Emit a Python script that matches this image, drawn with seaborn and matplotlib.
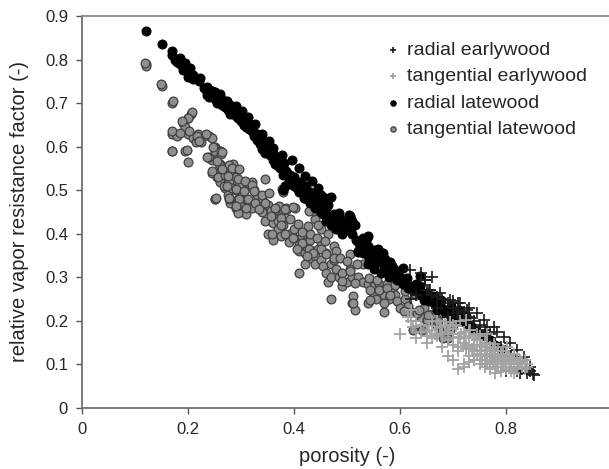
import matplotlib
matplotlib.use('Agg')
import matplotlib.pyplot as plt
import seaborn as sns
from matplotlib.ticker import FuncFormatter

# Values (porosity, relative vapor resistance factor)
radial_latewood_x = [0.12, 0.15, 0.17, 0.17, 0.175, 0.18, 0.185, 0.19, 0.195, 0.19, 0.20, 0.20, 0.21, 0.21, 0.22,
                     0.23, 0.235, 0.24, 0.24, 0.245, 0.25, 0.25, 0.255, 0.26, 0.26, 0.265, 0.27, 0.27, 0.275, 0.28,
                     0.28, 0.285, 0.29, 0.29, 0.295, 0.30, 0.30, 0.305, 0.31, 0.31, 0.315, 0.32, 0.32, 0.325, 0.33,
                     0.33, 0.335, 0.34, 0.34, 0.345, 0.35, 0.35, 0.355, 0.36, 0.36, 0.365, 0.37, 0.37, 0.375, 0.38,
                     0.38, 0.385, 0.39, 0.39, 0.395, 0.40, 0.40, 0.405, 0.41, 0.41, 0.415, 0.42, 0.42, 0.425, 0.43,
                     0.43, 0.435, 0.44, 0.44, 0.445, 0.45, 0.45, 0.455, 0.46, 0.46, 0.465, 0.47, 0.47, 0.475, 0.48,
                     0.48, 0.485, 0.49, 0.49, 0.495, 0.50, 0.505, 0.51, 0.51, 0.515, 0.52, 0.52, 0.525, 0.53, 0.53,
                     0.535, 0.54, 0.54, 0.545, 0.55, 0.55, 0.555, 0.56, 0.565, 0.57, 0.575, 0.58, 0.585, 0.59, 0.595,
                     0.60, 0.605, 0.61, 0.615, 0.62, 0.625, 0.63, 0.635, 0.64, 0.645, 0.65, 0.655, 0.66, 0.665, 0.67,
                     0.675, 0.68, 0.685, 0.69, 0.695, 0.70, 0.705, 0.71, 0.715, 0.72, 0.725, 0.73, 0.735, 0.74, 0.745,
                     0.75, 0.76, 0.77, 0.78, 0.79, 0.38, 0.47,
                     0.373, 0.392, 0.383, 0.411, 0.423, 0.436, 0.418, 0.451, 0.466, 0.457, 0.485, 0.504, 0.491, 0.507,
                     0.476, 0.517, 0.537, 0.54, 0.559, 0.521, 0.572, 0.588, 0.57, 0.553,
                     0.506, 0.5, 0.54, 0.524, 0.55, 0.568, 0.581, 0.606, 0.613, 0.638, 0.651, 0.664, 0.677, 0.696,
                     0.712, 0.725, 0.645, 0.67, 0.689, 0.638,
                     0.245, 0.261, 0.274, 0.29, 0.286, 0.302, 0.314, 0.327, 0.321, 0.34, 0.352, 0.346, 0.361, 0.378,
                     0.381, 0.396, 0.393, 0.409, 0.421, 0.415, 0.434, 0.446, 0.44, 0.459, 0.465, 0.383,
                     0.185, 0.195, 0.204, 0.211, 0.223, 0.236, 0.245, 0.236, 0.258, 0.264, 0.277, 0.286, 0.299, 0.305,
                     0.318, 0.33, 0.34, 0.349]
radial_latewood_y = [0.865, 0.835, 0.82, 0.81, 0.80, 0.795, 0.79, 0.785, 0.78, 0.775, 0.77, 0.76, 0.765, 0.755, 0.75,
                     0.735, 0.725, 0.73, 0.715, 0.72, 0.71, 0.725, 0.70, 0.715, 0.70, 0.695, 0.705, 0.69, 0.685, 0.695,
                     0.675, 0.68, 0.67, 0.685, 0.665, 0.66, 0.675, 0.65, 0.66, 0.645, 0.64, 0.635, 0.65, 0.625, 0.63,
                     0.615, 0.605, 0.615, 0.595, 0.60, 0.59, 0.605, 0.58, 0.585, 0.57, 0.56, 0.575, 0.555, 0.565, 0.55,
                     0.535, 0.545, 0.53, 0.52, 0.525, 0.51, 0.53, 0.505, 0.52, 0.495, 0.505, 0.49, 0.51, 0.48, 0.495,
                     0.47, 0.485, 0.46, 0.48, 0.465, 0.45, 0.47, 0.445, 0.46, 0.43, 0.44, 0.42, 0.485, 0.445, 0.43,
                     0.41, 0.44, 0.42, 0.40, 0.43, 0.41, 0.44, 0.43, 0.40, 0.42, 0.38, 0.36, 0.37, 0.39, 0.355,
                     0.37, 0.35, 0.33, 0.36, 0.34, 0.32, 0.35, 0.335, 0.31, 0.34, 0.32, 0.30, 0.325, 0.31, 0.295,
                     0.30, 0.285, 0.29, 0.275, 0.28, 0.27, 0.285, 0.265, 0.26, 0.255, 0.265, 0.245, 0.25, 0.24, 0.235,
                     0.245, 0.23, 0.22, 0.225, 0.215, 0.21, 0.22, 0.205, 0.20, 0.21, 0.195, 0.19, 0.185, 0.18, 0.175,
                     0.17, 0.165, 0.155, 0.145, 0.135, 0.50, 0.435,
                     0.55, 0.532, 0.51, 0.515, 0.505, 0.49, 0.482, 0.49, 0.482, 0.455, 0.447, 0.444, 0.428, 0.413,
                     0.436, 0.386, 0.39, 0.373, 0.365, 0.358, 0.342, 0.319, 0.319, 0.35,
                     0.439, 0.409, 0.394, 0.378, 0.363, 0.355, 0.336, 0.321, 0.298, 0.279, 0.264, 0.257, 0.249, 0.234,
                     0.226, 0.211, 0.249, 0.226, 0.219, 0.302,
                     0.728, 0.72, 0.705, 0.693, 0.674, 0.682, 0.667, 0.651, 0.636, 0.628, 0.613, 0.586, 0.597, 0.582,
                     0.563, 0.57, 0.536, 0.551, 0.532, 0.513, 0.521, 0.505, 0.49, 0.482, 0.467, 0.509,
                     0.803, 0.791, 0.78, 0.761, 0.757, 0.738, 0.727, 0.719, 0.715, 0.70, 0.696, 0.681, 0.666, 0.65,
                     0.643, 0.628, 0.612, 0.597]

tangential_latewood_x = [0.12, 0.12, 0.15, 0.17, 0.17, 0.17, 0.18, 0.19, 0.195, 0.20, 0.205, 0.20, 0.195, 0.20, 0.21,
                         0.215, 0.22, 0.225, 0.24, 0.245, 0.24, 0.245, 0.25, 0.255, 0.26, 0.25, 0.255, 0.26, 0.265,
                         0.27, 0.25, 0.26, 0.27, 0.275, 0.28, 0.285, 0.29, 0.28, 0.29, 0.295, 0.28, 0.29, 0.30, 0.30,
                         0.305, 0.31, 0.31, 0.32, 0.32, 0.325, 0.33, 0.335, 0.34, 0.34, 0.35, 0.345, 0.35, 0.36, 0.36,
                         0.365, 0.37, 0.37, 0.375, 0.38, 0.38, 0.385, 0.39, 0.39, 0.40, 0.40, 0.41, 0.41, 0.415, 0.42,
                         0.42, 0.425, 0.43, 0.43, 0.435, 0.44, 0.44, 0.445, 0.45, 0.45, 0.455, 0.46, 0.46, 0.465, 0.47,
                         0.47, 0.475, 0.48, 0.485, 0.49, 0.49, 0.50, 0.505, 0.51, 0.51, 0.515, 0.52, 0.53, 0.53, 0.54,
                         0.54, 0.55, 0.55, 0.555, 0.56, 0.565, 0.57, 0.57, 0.575, 0.58, 0.585, 0.59, 0.595, 0.60, 0.61,
                         0.615, 0.62, 0.63, 0.625, 0.64, 0.65, 0.66, 0.67, 0.68, 0.69, 0.70, 0.36, 0.41, 0.44, 0.43,
                         0.47, 0.42, 0.45, 0.48,
                         0.119, 0.149, 0.171, 0.207, 0.20, 0.188, 0.169, 0.184, 0.201, 0.218, 0.234, 0.221, 0.169, 0.198,
                         0.25, 0.261,
                         0.217, 0.22, 0.24, 0.25, 0.263, 0.258, 0.246, 0.256, 0.27, 0.285, 0.277, 0.29, 0.267, 0.283,
                         0.297, 0.25, 0.278, 0.29, 0.294,
                         0.248, 0.264, 0.235, 0.255, 0.277, 0.245, 0.264, 0.283, 0.296, 0.276, 0.295, 0.308, 0.321, 0.346,
                         0.273, 0.29, 0.305, 0.324, 0.34, 0.352, 0.253, 0.278, 0.297, 0.313, 0.326, 0.346, 0.371, 0.29,
                         0.309, 0.334, 0.356, 0.384, 0.402, 0.378, 0.436,
                         0.38, 0.364, 0.383, 0.399, 0.357, 0.376, 0.392, 0.408, 0.427, 0.376, 0.358, 0.383, 0.399, 0.415,
                         0.428, 0.445, 0.464, 0.443, 0.459, 0.415, 0.406, 0.428, 0.45, 0.475, 0.48, 0.435, 0.46, 0.505,
                         0.425, 0.476,
                         0.487, 0.50, 0.519, 0.506, 0.49, 0.515, 0.541, 0.557, 0.544, 0.56, 0.576, 0.59, 0.581, 0.61,
                         0.512, 0.512, 0.544, 0.569, 0.607, 0.632, 0.645, 0.651, 0.664, 0.681, 0.697, 0.694,
                         0.636, 0.652, 0.672, 0.689, 0.642, 0.682]
tangential_latewood_y = [0.79, 0.785, 0.74, 0.70, 0.63, 0.59, 0.625, 0.655, 0.645, 0.665, 0.675, 0.63, 0.59, 0.565, 0.62,
                         0.61, 0.62, 0.61, 0.625, 0.62, 0.575, 0.57, 0.60, 0.585, 0.59, 0.54, 0.53, 0.56, 0.55,
                         0.535, 0.48, 0.52, 0.505, 0.49, 0.55, 0.545, 0.53, 0.51, 0.50, 0.48, 0.47, 0.46, 0.47, 0.52,
                         0.50, 0.48, 0.445, 0.46, 0.52, 0.50, 0.49, 0.47, 0.48, 0.45, 0.465, 0.43, 0.40, 0.44, 0.425,
                         0.455, 0.43, 0.41, 0.395, 0.42, 0.455, 0.455, 0.40, 0.38, 0.41, 0.39, 0.375, 0.36, 0.395, 0.38,
                         0.355, 0.37, 0.345, 0.385, 0.36, 0.35, 0.33, 0.365, 0.34, 0.38, 0.325, 0.355, 0.31, 0.29, 0.33,
                         0.30, 0.34, 0.32, 0.30, 0.28, 0.31, 0.29, 0.32, 0.30, 0.24, 0.225, 0.30, 0.33, 0.29, 0.285,
                         0.24, 0.28, 0.265, 0.25, 0.285, 0.27, 0.26, 0.22, 0.285, 0.25, 0.27, 0.26, 0.245, 0.23, 0.25,
                         0.235, 0.22, 0.26, 0.18, 0.21, 0.20, 0.215, 0.19, 0.175, 0.16, 0.19, 0.385, 0.31, 0.435, 0.40,
                         0.25, 0.33, 0.41, 0.35,
                         0.792, 0.744, 0.705, 0.679, 0.665, 0.658, 0.637, 0.632, 0.635, 0.628, 0.63, 0.617, 0.591, 0.593,
                         0.597, 0.591,
                         0.624, 0.614, 0.576, 0.59, 0.584, 0.56, 0.54, 0.531, 0.535, 0.56, 0.52, 0.53, 0.51, 0.505,
                         0.51, 0.48, 0.48, 0.46, 0.447,
                         0.60, 0.588, 0.577, 0.566, 0.557, 0.545, 0.549, 0.551, 0.549, 0.532, 0.525, 0.521, 0.513, 0.525,
                         0.51, 0.502, 0.498, 0.498, 0.49, 0.494, 0.483, 0.483, 0.479, 0.479, 0.471, 0.471, 0.464, 0.464,
                         0.46, 0.456, 0.452, 0.46, 0.46, 0.502, 0.452,
                         0.497, 0.459, 0.457, 0.461, 0.44, 0.437, 0.434, 0.423, 0.419, 0.42, 0.40, 0.40, 0.39, 0.404,
                         0.452, 0.42, 0.40, 0.39, 0.383, 0.378, 0.365, 0.366, 0.366, 0.373, 0.36, 0.356, 0.353, 0.353,
                         0.349, 0.345,
                         0.344, 0.337, 0.33, 0.314, 0.291, 0.288, 0.298, 0.295, 0.272, 0.272, 0.275, 0.283, 0.26, 0.268,
                         0.257, 0.242, 0.249, 0.242, 0.222, 0.219, 0.23, 0.203, 0.214, 0.219, 0.203, 0.18,
                         0.225, 0.214, 0.199, 0.183, 0.179, 0.16]

radial_earlywood_x = [0.64, 0.66, 0.63, 0.65, 0.66, 0.67, 0.68, 0.69, 0.70, 0.70, 0.71, 0.72, 0.72, 0.73, 0.73, 0.74,
                      0.74, 0.75, 0.75, 0.76, 0.76, 0.77, 0.77, 0.78, 0.78, 0.79, 0.79, 0.80, 0.80, 0.81, 0.81, 0.82,
                      0.82, 0.83, 0.83, 0.84, 0.845, 0.85, 0.84, 0.80, 0.82, 0.69, 0.71, 0.75, 0.62, 0.67,
                      0.619, 0.648, 0.654, 0.709, 0.73, 0.647, 0.657, 0.675, 0.694, 0.713, 0.726, 0.745, 0.758, 0.777,
                      0.796, 0.808, 0.821, 0.834, 0.846, 0.853, 0.827, 0.783, 0.764, 0.733, 0.708]
radial_earlywood_y = [0.31, 0.30, 0.26, 0.27, 0.26, 0.255, 0.25, 0.24, 0.245, 0.23, 0.225, 0.22, 0.205, 0.21, 0.195, 0.20,
                      0.185, 0.19, 0.175, 0.18, 0.165, 0.17, 0.155, 0.15, 0.14, 0.14, 0.13, 0.13, 0.12, 0.12, 0.11, 0.11,
                      0.10, 0.10, 0.09, 0.09, 0.085, 0.078, 0.08, 0.085, 0.085, 0.21, 0.20, 0.155, 0.25, 0.23,
                      0.317, 0.295, 0.272, 0.241, 0.23, 0.294, 0.271, 0.263, 0.248, 0.24, 0.225, 0.217, 0.202, 0.187,
                      0.164, 0.149, 0.133, 0.118, 0.095, 0.076, 0.08, 0.175, 0.187, 0.206, 0.217]

tangential_earlywood_x = [0.62, 0.625, 0.63, 0.64, 0.65, 0.66, 0.67, 0.67, 0.68, 0.685, 0.69, 0.70, 0.70, 0.71, 0.71,
                          0.72, 0.72, 0.725, 0.73, 0.73, 0.74, 0.74, 0.745, 0.75, 0.75, 0.76, 0.76, 0.76, 0.77, 0.77,
                          0.78, 0.78, 0.785, 0.79, 0.79, 0.80, 0.80, 0.81, 0.82, 0.83, 0.72, 0.71, 0.78, 0.74, 0.69,
                          0.68, 0.65, 0.73, 0.75, 0.76, 0.81, 0.77, 0.70, 0.66, 0.79, 0.815, 0.84, 0.70, 0.60,
                          0.62, 0.654, 0.705, 0.725, 0.651, 0.666, 0.694, 0.70, 0.713, 0.733, 0.745, 0.752, 0.764, 0.777,
                          0.79, 0.802, 0.815, 0.827, 0.84, 0.796, 0.771, 0.739, 0.72, 0.764, 0.808, 0.821, 0.783, 0.713,
                          0.73, 0.75, 0.76, 0.78, 0.79, 0.80, 0.81, 0.82, 0.83, 0.77, 0.74, 0.72, 0.71, 0.76, 0.78,
                          0.80, 0.82, 0.75, 0.73, 0.69, 0.675, 0.66, 0.64, 0.63, 0.615,
                          0.735, 0.745, 0.755, 0.765, 0.775, 0.785, 0.795, 0.805, 0.815, 0.825, 0.835, 0.755, 0.775,
                          0.795, 0.815, 0.765, 0.785, 0.805, 0.745, 0.725, 0.715, 0.835, 0.81, 0.79, 0.77]
tangential_earlywood_y = [0.20, 0.185, 0.16, 0.19, 0.175, 0.18, 0.20, 0.165, 0.17, 0.19, 0.155, 0.17, 0.145, 0.16, 0.13,
                          0.175, 0.15, 0.135, 0.165, 0.12, 0.145, 0.13, 0.155, 0.12, 0.14, 0.15, 0.13, 0.11, 0.14, 0.12,
                          0.13, 0.11, 0.095, 0.12, 0.10, 0.115, 0.10, 0.095, 0.09, 0.095, 0.10, 0.09, 0.08, 0.11, 0.12,
                          0.14, 0.15, 0.18, 0.165, 0.095, 0.11, 0.10, 0.11, 0.20, 0.085, 0.08, 0.095, 0.19, 0.17,
                          0.226, 0.188, 0.188, 0.203, 0.166, 0.17, 0.197, 0.182, 0.163, 0.178, 0.156, 0.133, 0.171, 0.148,
                          0.125, 0.14, 0.125, 0.11, 0.102, 0.11, 0.118, 0.11, 0.095, 0.102, 0.102, 0.095, 0.095, 0.20,
                          0.14, 0.13, 0.14, 0.12, 0.11, 0.09, 0.105, 0.10, 0.105, 0.13, 0.16, 0.16, 0.14, 0.12, 0.14,
                          0.125, 0.115, 0.10, 0.105, 0.175, 0.185, 0.16, 0.175, 0.20, 0.21,
                          0.135, 0.125, 0.145, 0.125, 0.135, 0.115, 0.13, 0.11, 0.115, 0.10, 0.09, 0.11, 0.105,
                          0.095, 0.09, 0.15, 0.13, 0.12, 0.17, 0.145, 0.17, 0.11, 0.085, 0.105, 0.09]

sns.set_style('ticks')
plt.rcParams['font.family'] = ['Liberation Sans', 'DejaVu Sans']

fig = plt.figure(figsize=(6.09, 4.69), dpi=100)
ax = fig.add_axes([82 / 609, 61 / 469, 530 / 609, 392 / 469])

# draw order: circles below, crosses on top
sns.scatterplot(x=tangential_latewood_x, y=tangential_latewood_y, ax=ax, marker='o', s=40,
                color='#8f8f8f', edgecolor='#404040', linewidth=0.9, label='tangential latewood', zorder=2)
sns.scatterplot(x=radial_latewood_x, y=radial_latewood_y, ax=ax, marker='o', s=40,
                color='black', edgecolor='black', linewidth=0.9, label='radial latewood', zorder=3)
sns.scatterplot(x=radial_earlywood_x, y=radial_earlywood_y, ax=ax, marker='+', s=70,
                color='#1a1a1a', linewidth=1.2, label='radial earlywood', zorder=4)
sns.scatterplot(x=tangential_earlywood_x, y=tangential_earlywood_y, ax=ax, marker='+', s=70,
                color='#a3a3a3', linewidth=1.3, label='tangential earlywood', zorder=5)

ax.set_xlim(0, 1)
ax.set_ylim(0, 0.9)
ax.set_xticks([0, 0.2, 0.4, 0.6, 0.8, 1.0])
ax.set_yticks([0, 0.1, 0.2, 0.3, 0.4, 0.5, 0.6, 0.7, 0.8, 0.9])
fmt = FuncFormatter(lambda v, p: '%g' % round(v, 2))
ax.xaxis.set_major_formatter(fmt)
ax.yaxis.set_major_formatter(fmt)
ax.tick_params(axis='both', direction='out', length=4, width=1, color='#555555', labelsize=12, pad=6)

for side in ['left', 'bottom', 'top', 'right']:
    ax.spines[side].set_color('#707070')
    ax.spines[side].set_linewidth(1.3)
ax.spines['top'].set_color('#8a8a8a')

ax.set_xlabel('porosity (-)', fontsize=14.5)
ax.set_ylabel('relative vapor resistance factor (-)', fontsize=14.5)
ax.xaxis.set_label_coords(0.5, -0.10)
ax.yaxis.set_label_coords(-0.10, 0.5)

handles, labels = ax.get_legend_handles_labels()
order = ['radial earlywood', 'tangential earlywood', 'radial latewood', 'tangential latewood']
hmap = dict(zip(labels, handles))
ax.legend([hmap[k] for k in order], order, loc='upper left', bbox_to_anchor=(0.54, 0.98),
          frameon=False, fontsize=14, labelspacing=0.45, handletextpad=0.3, handlelength=0.8,
          markerscale=0.6)

fig.savefig('out.png', dpi=100)
